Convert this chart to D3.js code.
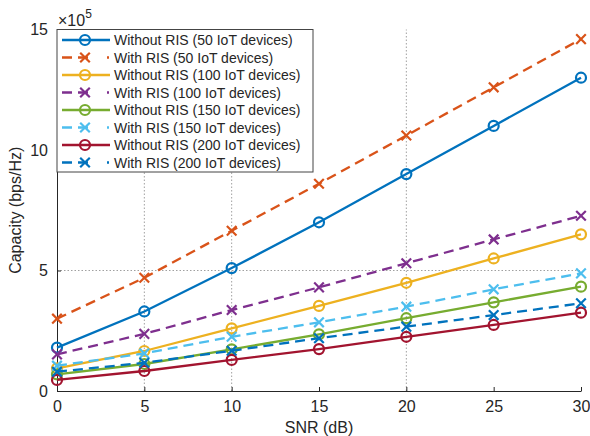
<!DOCTYPE html>
<html><head><meta charset="utf-8">
<script src="https://cdn.jsdelivr.net/npm/d3@7"></script>
<style>body{margin:0;background:#fff}svg{display:block}text{font-family:"Liberation Sans",Arial,sans-serif;fill:#262626}</style>
</head><body>
<svg id="c" width="590" height="436"></svg>
<script>
const snr = [0, 5, 10, 15, 20, 25, 30];
const xTicks = [0, 5, 10, 15, 20, 25, 30];
const yTicks = [0, 5, 10, 15];
const gridX = [5, 10, 20];
const gridY = [5];
const labels = [
  "Without RIS (50 IoT devices)", "With RIS (50 IoT devices)",
  "Without RIS (100 IoT devices)", "With RIS (100 IoT devices)",
  "Without RIS (150 IoT devices)", "With RIS (150 IoT devices)",
  "Without RIS (200 IoT devices)", "With RIS (200 IoT devices)"
];
const withRIS = [false, true, false, true, false, true, false, true];
const colors = ["#0072BD", "#D95319", "#EDB120", "#7E2F8E", "#77AC30", "#4DBEEE", "#A2142F", "#0072BD"];
// values in units of 1e5 bps/Hz
const wo50  = [1.8, 3.3, 5.1, 7.0, 9.0, 11.0, 13.0];
const w50   = [3.0, 4.7, 6.65, 8.6, 10.6, 12.6, 14.6];
const wo100 = [0.94, 1.66, 2.6, 3.53, 4.49, 5.5, 6.5];
const w100  = [1.52, 2.37, 3.36, 4.3, 5.3, 6.29, 7.27];
const wo150 = [0.69, 1.12, 1.73, 2.35, 3.02, 3.68, 4.33];
const w150  = [1.05, 1.56, 2.25, 2.85, 3.5, 4.22, 4.88];
const wo200 = [0.46, 0.83, 1.29, 1.74, 2.25, 2.74, 3.25];
const w200  = [0.8, 1.17, 1.67, 2.19, 2.67, 3.15, 3.64];
const seriesValues = [wo50, w50, wo100, w100, wo150, w150, wo200, w200];

const svg = d3.select("#c");
const L = 57, R = 581, T = 29.5, B = 391;
const x = d3.scaleLinear().domain([0, 30]).range([L, R]);
const y = d3.scaleLinear().domain([0, 15]).range([B, T]);

// grid
const g = svg.append("g");
g.selectAll(".gx").data(gridX).join("line")
  .attr("x1", d => x(d)).attr("x2", d => x(d)).attr("y1", B).attr("y2", T)
  .attr("stroke", "#a0a0a0").attr("stroke-width", 1).attr("stroke-dasharray", "1.5,2");
g.selectAll(".gy").data(gridY).join("line")
  .attr("y1", d => y(d)).attr("y2", d => y(d)).attr("x1", L).attr("x2", R)
  .attr("stroke", "#a0a0a0").attr("stroke-width", 1).attr("stroke-dasharray", "1.5,2");

// axes
const xAxis = d3.axisBottom(x).tickValues(xTicks).tickSizeInner(-4).tickSizeOuter(0).tickPadding(10);
const yAxis = d3.axisLeft(y).tickValues(yTicks).tickSizeInner(-4).tickSizeOuter(0).tickPadding(9);
const ax = svg.append("g").attr("transform", `translate(0,${B})`).call(xAxis);
const ay = svg.append("g").attr("transform", `translate(${L},0)`).call(yAxis);
[ax, ay].forEach(a => {
  a.select(".domain").attr("stroke", "#262626");
  a.selectAll(".tick line").attr("stroke", "#262626");
  a.selectAll("text").style("font-size", "16px").attr("fill", "#262626").style("font-family", '"Liberation Sans",Arial,sans-serif');
});

// exponent
const ex = svg.append("text").attr("x", L + 1).attr("y", 26).style("font-size", "16px");
ex.append("tspan").text("×10");
ex.append("tspan").attr("dy", -8).style("font-size", "12px").text("5");

// axis titles
svg.append("text").attr("x", (L + R) / 2).attr("y", 433).attr("text-anchor", "middle")
  .style("font-size", "16px").text("SNR (dB)");
svg.append("text").attr("transform", `translate(21,${(T + B) / 2}) rotate(-90)`).attr("text-anchor", "middle")
  .style("font-size", "16px").text("Capacity (bps/Hz)");

// series
const line = d3.line().x((d, i) => x(snr[i])).y(d => y(d));
function marker(sel, isX, color, cx, cy) {
  if (isX) {
    const s = 4.8;
    sel.append("path").attr("d", `M${cx - s},${cy - s}L${cx + s},${cy + s}M${cx - s},${cy + s}L${cx + s},${cy - s}`)
      .attr("stroke", color).attr("stroke-width", 2.2).attr("fill", "none");
  } else {
    sel.append("circle").attr("cx", cx).attr("cy", cy).attr("r", 5)
      .attr("stroke", color).attr("stroke-width", 2.2).attr("fill", "none");
  }
}
seriesValues.forEach((vals, k) => {
  const sg = svg.append("g");
  sg.append("path").attr("d", line(vals)).attr("fill", "none").attr("stroke", colors[k])
    .attr("stroke-width", 2.3).attr("stroke-dasharray", withRIS[k] ? "10,6" : null);
  vals.forEach((v, i) => marker(sg, withRIS[k], colors[k], x(snr[i]), y(v)));
});

// legend
const lg = svg.append("g");
lg.append("rect").attr("x", L).attr("y", T).attr("width", 256).attr("height", 142.5)
  .attr("fill", "#fff").attr("stroke", "#444").attr("stroke-width", 1);
labels.forEach((lab, k) => {
  const cy = 40 + k * 17.5;
  lg.append("line").attr("x1", 62).attr("x2", 110).attr("y1", cy).attr("y2", cy)
    .attr("stroke", colors[k]).attr("stroke-width", 2.3)
    .attr("stroke-dasharray", withRIS[k] ? "10,6,10,19,2,100" : null);
  marker(lg, withRIS[k], colors[k], 85, cy);
  lg.append("text").attr("x", 114).attr("y", cy + 5).style("font-size", "14px").text(lab);
});
</script>
</body></html>
